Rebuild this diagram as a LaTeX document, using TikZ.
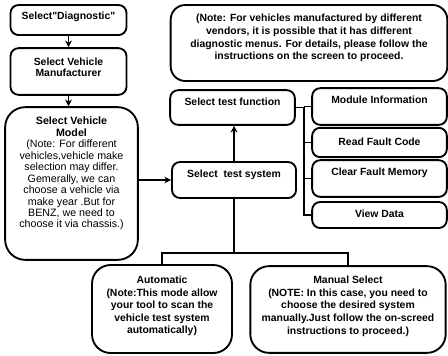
\documentclass[tikz,border=0pt]{standalone}
\usepackage{fontspec}
\setmainfont{Liberation Sans}[Ligatures=TeXOff]
\usetikzlibrary{arrows.meta}
%push the text up inside a box
\newcommand{\lift}[1]{\rule[-#1]{0pt}{0pt}}

\begin{document}
\begin{tikzpicture}[x=0.75pt,y=-0.75pt,
  box/.style={draw, line width=1.4pt, rounded corners=6pt, align=center, inner sep=0pt,
    font=\bfseries\fontsize{7.8}{8.4}\selectfont},
  bigbox/.style={box, rounded corners=14pt},
  link/.style={line width=1.2pt},
  arr/.style={link, -{Stealth[length=5pt,width=5pt]}}]
\useasboundingbox (0,0) rectangle (448,355);

%left column
\node[box, minimum width=87pt, minimum height=22.5pt] (diag) at (68.5,20) {Select"Diagnostic"\lift{6pt}};
\node[box, minimum width=87pt, minimum height=35pt] (manu) at (68.5,71.5) {Select Vehicle\\Manufacturer\lift{6pt}};
\node[bigbox, rounded corners=15pt, minimum width=99.5pt, minimum height=114.5pt,
  font=\fontsize{8}{8.6}\selectfont] (model) at (71.5,183.5)
  {\textbf{Select Vehicle}\\\textbf{Model}\\(Note: For different\\vehicles,vehicle make\\selection may differ.\\
   Gemerally, we can\\choose a vehicle via\\make year .But for\\BENZ, we need to\\choose it via chassis.)\lift{16.5pt}};

%top note
\node[bigbox, rounded corners=11pt, minimum width=207.5pt, minimum height=57pt,
  font=\bfseries\fontsize{7.8}{9.5}\selectfont] (note) at (309,43)
  {(Note: For vehicles manufactured by different\\vendors, it is possible that it has different\\
   diagnostic menus. For details, please follow the\\instructions on the screen to proceed.\lift{9pt}};

%middle
\node[box, minimum width=93.5pt, minimum height=26pt] (fun) at (232.5,107.5) {Select test function\lift{8pt}};
\node[box, minimum width=93pt, minimum height=27pt] (sys) at (234,180) {Select~~test system\lift{9pt}};

%functions
\node[box, minimum width=101pt, minimum height=27.5pt] (mod) at (379.5,106.5) {Module Information\lift{10pt}};
\node[box, minimum width=101pt, minimum height=22pt] (read) at (379.5,142.5) {Read Fault Code\lift{1.5pt}};
\node[box, minimum width=101pt, minimum height=27.5pt] (clear) at (379.5,178.5) {Clear Fault Memory\lift{10pt}};
\node[box, minimum width=101pt, minimum height=19.5pt] (view) at (379.5,215) {View Data\lift{1.5pt}};

%modes
\node[bigbox, minimum width=105pt, minimum height=66pt,
  font=\bfseries\fontsize{7.8}{9.4}\selectfont] (auto) at (162,309)
  {Automatic\\(Note:This mode allow\\your tool to scan the\\vehicle test system\\automatically)\lift{6pt}};
\node[bigbox, minimum width=146.5pt, minimum height=65pt,
  font=\bfseries\fontsize{7.8}{9.4}\selectfont] (man) at (348,309.5)
  {Manual Select\\(NOTE: In this case, you need to\\choose the desired system\\
   manually.Just follow the on-screed\\instructions to proceed.)\lift{6.5pt}};

%arrows
\draw[arr] (diag) -- (manu);
\draw[arr] (manu.south) -- (manu.south |- model.north);
\draw[arr] (sys.west -| model.east) -- (sys.west);
\draw[arr] (sys.north) -- (sys.north |- fun.south);

%bus to functions
\coordinate (bus) at (304,108);
\draw[link] (fun.east) -- (fun.east -| bus) |- (view.west);
\foreach \f in {mod,read,clear}
  \draw[link] (bus |- \f.west) -- (\f.west);

%split to modes
\coordinate (split) at (234,253);
\draw[link] (sys.south) -- (sys.south |- split);
\draw[link] (auto.north) -- (auto.north |- split) -- (man.north |- split) -- (man.north);
\end{tikzpicture}
\end{document}
